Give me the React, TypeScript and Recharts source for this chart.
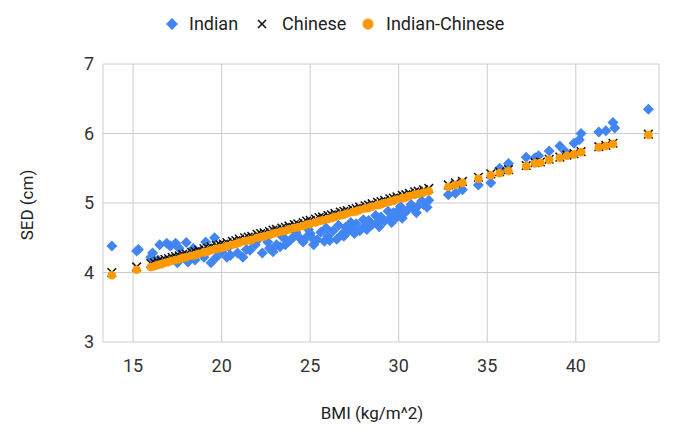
import { ScatterChart, Scatter, XAxis, YAxis, CartesianGrid } from "recharts";

// [BMI, SED] pairs, one list per series
const indianPoints: [number, number][] = [
  [13.8, 4.38], [15.2, 4.31], [15.3, 4.33], [16.0, 4.22], [16.1, 4.28], [16.4, 4.18],
  [16.5, 4.40], [16.9, 4.42], [17.1, 4.38], [17.4, 4.42], [17.5, 4.14], [17.6, 4.35],
  [18.0, 4.43], [18.1, 4.15], [18.4, 4.35], [18.5, 4.18], [18.8, 4.30], [19.0, 4.22],
  [19.1, 4.44], [19.4, 4.14], [19.6, 4.50], [19.7, 4.22], [20.0, 4.30], [20.3, 4.22],
  [20.4, 4.37], [20.5, 4.25], [20.9, 4.28], [21.2, 4.22], [21.4, 4.33], [21.6, 4.32],
  [21.9, 4.40], [22.3, 4.28], [22.6, 4.44], [22.7, 4.35], [23.1, 4.40], [23.3, 4.37],
  [23.6, 4.40], [23.6, 4.48], [23.9, 4.47], [24.1, 4.52], [24.4, 4.50], [24.6, 4.44],
  [24.8, 4.51], [25.0, 4.56], [25.2, 4.40], [25.4, 4.47], [25.6, 4.58], [25.8, 4.45],
  [26.0, 4.52], [26.3, 4.60], [26.5, 4.48], [26.8, 4.55], [27.0, 4.65], [27.1, 4.58],
  [27.4, 4.62], [27.6, 4.70], [27.8, 4.60], [28.1, 4.67], [28.3, 4.75], [28.5, 4.69],
  [28.8, 4.72], [29.0, 4.80], [29.2, 4.74], [29.5, 4.78], [29.7, 4.86], [29.9, 4.80],
  [30.1, 4.95], [30.3, 4.85], [30.5, 4.90], [30.8, 4.93], [31.1, 4.96], [31.4, 4.98],
  [31.7, 5.04], [32.8, 5.12], [33.2, 5.14], [33.6, 5.19], [34.5, 5.26], [35.2, 5.29],
  [35.7, 5.50], [35.8, 5.47], [36.2, 5.57], [37.2, 5.66], [37.7, 5.65], [37.9, 5.68],
  [38.5, 5.75], [39.1, 5.82], [39.4, 5.74], [39.9, 5.86], [40.2, 5.91], [40.3, 6.00],
  [41.3, 6.02], [41.7, 6.04], [42.1, 6.16], [42.2, 6.08], [44.1, 6.35],
  // extra readings filling the dense band
  [24.2, 4.58], [24.9, 4.62], [25.1, 4.50], [25.9, 4.64], [26.1, 4.46], [26.6, 4.68],
  [26.9, 4.52], [27.3, 4.72], [27.5, 4.56], [28.0, 4.76], [28.2, 4.62], [28.7, 4.82],
  [28.9, 4.66], [29.4, 4.88], [29.6, 4.72], [30.0, 4.90], [30.2, 4.78], [30.7, 4.98],
  [31.0, 4.86], [31.3, 5.03], [31.6, 4.94], [22.0, 4.46], [22.9, 4.30], [23.4, 4.52],
];

const chinesePoints: [number, number][] = [
  [13.8, 4.00], [15.2, 4.08], [16.0, 4.13], [16.2, 4.14], [16.4, 4.16], [16.6, 4.17],
  [16.8, 4.19], [17.0, 4.20], [17.2, 4.22], [17.4, 4.23], [17.6, 4.24], [17.8, 4.26],
  [18.0, 4.27], [18.3, 4.29], [18.5, 4.30], [18.7, 4.32], [19.0, 4.34], [19.2, 4.35],
  [19.4, 4.37], [19.7, 4.39], [19.9, 4.40], [20.1, 4.41], [20.3, 4.43], [20.6, 4.45],
  [20.8, 4.46], [21.0, 4.48], [21.3, 4.50], [21.5, 4.51], [21.7, 4.52], [22.0, 4.55],
  [22.2, 4.56], [22.4, 4.57], [22.7, 4.59], [22.9, 4.61], [23.1, 4.62], [23.4, 4.64],
  [23.6, 4.65], [23.8, 4.67], [24.1, 4.69], [24.3, 4.70], [24.6, 4.72], [24.8, 4.74],
  [25.0, 4.75], [25.3, 4.77], [25.5, 4.79], [25.7, 4.80], [26.0, 4.82], [26.2, 4.83],
  [26.4, 4.85], [26.7, 4.87], [26.9, 4.88], [27.1, 4.89], [27.4, 4.91], [27.6, 4.92],
  [27.8, 4.94], [28.1, 4.96], [28.3, 4.97], [28.5, 4.99], [28.8, 5.01], [29.0, 5.02],
  [29.2, 5.04], [29.5, 5.06], [29.7, 5.07], [29.9, 5.09], [30.2, 5.11], [30.4, 5.12],
  [30.6, 5.14], [30.9, 5.16], [31.1, 5.17], [31.4, 5.19], [31.7, 5.21], [32.8, 5.26],
  [33.2, 5.29], [33.6, 5.31], [34.5, 5.37], [35.2, 5.42], [35.7, 5.45], [36.2, 5.48],
  [37.2, 5.54], [37.7, 5.58], [38.0, 5.59], [38.5, 5.63], [39.1, 5.66], [39.5, 5.69],
  [39.9, 5.71], [40.3, 5.74], [41.3, 5.81], [41.7, 5.83], [42.1, 5.86], [44.1, 5.99],
];

const mixedPoints: [number, number][] = [
  [13.8, 3.96], [15.2, 4.04], [16.0, 4.08], [16.2, 4.09], [16.4, 4.11], [16.6, 4.12],
  [16.8, 4.14], [17.0, 4.15], [17.2, 4.17], [17.4, 4.18], [17.6, 4.19], [17.8, 4.21],
  [18.0, 4.22], [18.3, 4.24], [18.5, 4.25], [18.7, 4.27], [19.0, 4.29], [19.2, 4.30],
  [19.4, 4.32], [19.7, 4.34], [19.9, 4.35], [20.1, 4.36], [20.3, 4.38], [20.6, 4.40],
  [20.8, 4.41], [21.0, 4.43], [21.3, 4.45], [21.5, 4.46], [21.7, 4.47], [22.0, 4.50],
  [22.2, 4.51], [22.4, 4.52], [22.7, 4.54], [22.9, 4.56], [23.1, 4.57], [23.4, 4.59],
  [23.6, 4.60], [23.8, 4.62], [24.1, 4.64], [24.3, 4.65], [24.6, 4.67], [24.8, 4.69],
  [25.0, 4.70], [25.3, 4.72], [25.5, 4.74], [25.7, 4.75], [26.0, 4.77], [26.2, 4.78],
  [26.4, 4.80], [26.7, 4.82], [26.9, 4.83], [27.1, 4.85], [27.4, 4.87], [27.6, 4.88],
  [27.8, 4.90], [28.1, 4.92], [28.3, 4.93], [28.5, 4.95], [28.8, 4.97], [29.0, 4.98],
  [29.2, 5.00], [29.5, 5.02], [29.7, 5.03], [29.9, 5.05], [30.2, 5.07], [30.4, 5.08],
  [30.6, 5.10], [30.9, 5.12], [31.1, 5.13], [31.4, 5.15], [31.7, 5.17], [32.8, 5.23],
  [33.2, 5.26], [33.6, 5.29], [34.5, 5.35], [35.2, 5.40], [35.7, 5.43], [36.2, 5.46],
  [37.2, 5.53], [37.7, 5.57], [38.0, 5.58], [38.5, 5.62], [39.1, 5.65], [39.5, 5.68],
  [39.9, 5.70], [40.3, 5.73], [41.3, 5.80], [41.7, 5.82], [42.1, 5.85], [44.1, 5.98],
];

const xTicks = [15, 20, 25, 30, 35, 40];
const yTicks = [3, 4, 5, 6, 7];

const BLUE = "#4285F4";
const ORANGE = "#FF9900";
const FONT = "Roboto, 'Noto Sans', sans-serif";

const toRows = (pts: [number, number][]) => pts.map(([x, y]) => ({ x, y }));

function Diamond(props: any) {
  const { cx, cy } = props;
  const r = 5.5;
  return (
    <polygon
      points={`${cx},${cy - r} ${cx + r},${cy} ${cx},${cy + r} ${cx - r},${cy}`}
      fill={BLUE}
    />
  );
}

function Cross(props: any) {
  const { cx, cy } = props;
  const r = 4.3;
  return (
    <g stroke="#111" strokeWidth={1.5}>
      <line x1={cx - r} y1={cy - r} x2={cx + r} y2={cy + r} />
      <line x1={cx - r} y1={cy + r} x2={cx + r} y2={cy - r} />
    </g>
  );
}

function Dot(props: any) {
  const { cx, cy } = props;
  return <circle cx={cx} cy={cy} r={4.3} fill={ORANGE} />;
}

function XTitle() {
  return (
    <text x={372} y={419} textAnchor="middle" fontSize={17} fill="#222" fontFamily={FONT}>
      BMI (kg/m^2)
    </text>
  );
}

function YTitle() {
  return (
    <text
      x={27}
      y={205}
      textAnchor="middle"
      dominantBaseline="central"
      transform="rotate(-90, 27, 205)"
      fontSize={17}
      fill="#222"
      fontFamily={FONT}
    >
      SED (cm)
    </text>
  );
}

function LegendBar() {
  const text = { position: "absolute" as const, top: 13, fontSize: 18, color: "#222", lineHeight: "22px" };
  return (
    <div style={{ position: "absolute", left: 0, top: 0, width: 673, height: 40, fontFamily: FONT }}>
      <svg style={{ position: "absolute", left: 166, top: 18 }} width={12} height={12}>
        <polygon points="6,0 12,6 6,12 0,6" fill={BLUE} />
      </svg>
      <span style={{ ...text, left: 189 }}>Indian</span>
      <svg style={{ position: "absolute", left: 257, top: 19 }} width={10} height={10}>
        <line x1={1} y1={1} x2={9} y2={9} stroke="#111" strokeWidth={1.6} />
        <line x1={1} y1={9} x2={9} y2={1} stroke="#111" strokeWidth={1.6} />
      </svg>
      <span style={{ ...text, left: 282 }}>Chinese</span>
      <svg style={{ position: "absolute", left: 362, top: 18 }} width={12} height={12}>
        <circle cx={6} cy={6} r={5.5} fill={ORANGE} />
      </svg>
      <span style={{ ...text, left: 386 }}>Indian-Chinese</span>
    </div>
  );
}

export default function App() {
  return (
    <div style={{ position: "absolute", left: 0, top: 0, width: 673, height: 429, background: "#fff" }}>
      <ScatterChart
        width={673}
        height={429}
        margin={{ top: 64, right: 14, bottom: 0, left: 0 }}
      >
        <CartesianGrid stroke="#cccccc" strokeWidth={1} />
        <XAxis
          type="number"
          dataKey="x"
          domain={[13.3, 44.7]}
          ticks={xTicks}
          allowDataOverflow
          height={87}
          axisLine={false}
          tickLine={false}
          tickSize={0}
          tickMargin={17}
          tick={{ fill: "#333", fontSize: 18, fontFamily: FONT }}
          label={<XTitle />}
        />
        <YAxis
          type="number"
          dataKey="y"
          domain={[3, 7]}
          ticks={yTicks}
          allowDataOverflow
          width={103}
          axisLine={false}
          tickLine={false}
          tickSize={0}
          tickMargin={9}
          tick={{ fill: "#333", fontSize: 18, fontFamily: FONT }}
          label={<YTitle />}
        />
        <Scatter name="Indian" data={toRows(indianPoints)} shape={<Diamond />} isAnimationActive={false} />
        <Scatter name="Chinese" data={toRows(chinesePoints)} shape={<Cross />} isAnimationActive={false} />
        <Scatter name="Indian-Chinese" data={toRows(mixedPoints)} shape={<Dot />} isAnimationActive={false} />
      </ScatterChart>
      <LegendBar />
    </div>
  );
}
